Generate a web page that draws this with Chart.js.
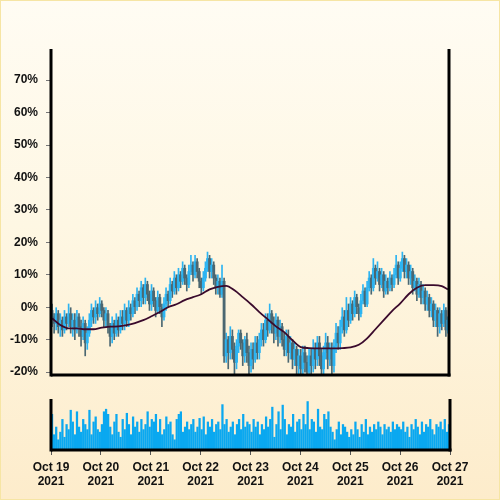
<!DOCTYPE html>
<html>
<head>
<meta charset="utf-8">
<script src="https://cdn.jsdelivr.net/npm/chart.js@4.4.1/dist/chart.umd.min.js"></script>
<style>
  html, body { margin: 0; padding: 0; }
  #wrap {
    position: relative; width: 498px; height: 498px;
    border: 1px solid #f6e5a4;
    background: linear-gradient(to bottom, #fffcf3 0%, #fef7e3 45%, #fdeccb 100%);
  }
  #main { position: absolute; left: 0; top: 0; }
  #vol { position: absolute; left: 0; top: 385px; }
</style>
</head>
<body>
<div id="wrap">
  <canvas id="main" width="500" height="385"></canvas>
  <canvas id="vol" width="500" height="115"></canvas>
</div>
<script>
// hourly candles, Oct 19 00:00 -> Oct 27 00:00 (values in %)
const dayNames = ["Oct 19", "Oct 20", "Oct 21", "Oct 22", "Oct 23", "Oct 24", "Oct 25", "Oct 26", "Oct 27"];
const yearLabel = "2021";
const yTicks = [-20, -10, 0, 10, 20, 30, 40, 50, 60, 70];

const firstOpen = -1;
const closes = [
  -3, -5, -2, -6, -4, -7, -3, -5, -2, -6, -4, -7, -3, -6, -9, -5, -11, -8, -4, -1, -3, 0, -2, 1,
  -1, -4, -2, -6, -9, -5, -8, -4, -7, -3, -5, -1, -4, 0, -2, 2, 0, 4, 2, 6, 3, 7, 4, 1,
  5, 2, -1, 3, 0, -3, 1, 4, 2, 7, 5, 9, 6, 10, 8, 12, 9, 7, 11, 13, 10, 14, 11, 8,
  6, 9, 12, 15, 11, 13, 9, 6, 8, 4, 8, -15, -10, -14, -9, -13, -17, -12, -8, -11, -15, -10, -14, -18,
  -13, -16, -11, -14, -10, -7, -10, -4, -7, -2, -5, -8, -4, -9, -6, -10, -13, -9, -14, -11, -16, -13, -18, -15,
  -19, -14, -17, -20, -15, -18, -13, -16, -11, -15, -19, -14, -11, -16, -13, -18, -12, -8, -11, -6, -3, -7, -1, -4,
  1, -2, 3, 0, -2, 2, 5, 1, 6, 9, 6, 12, 9, 11, 7, 10, 5, 8, 6, 9, 7, 10, 13, 9,
  12, 15, 11, 13, 9, 11, 6, 8, 4, 7, 3, 5, 1, 3, -1, 1, -4, -1, -6, -2, -5, -1, -7, -4
];
const highs = [
  1, -2, 0, -1, -2, -3, -1, -2, 1, 0, -2, -2, -1, -2, -4, -3, -4, -6, -2, 1, 0, 2, 1, 3,
  2, 0, 0, -1, -5, -3, -4, -2, -3, -1, -1, 1, 0, 2, 1, 4, 3, 6, 5, 8, 7, 9, 8, 5,
  7, 6, 3, 5, 4, 1, 3, 6, 5, 9, 8, 11, 10, 12, 11, 14, 13, 10, 13, 16, 14, 16, 15, 12,
  9, 11, 14, 17, 16, 15, 14, 10, 10, 9, 13, 9, -8, -9, -6, -7, -11, -10, -7, -7, -10, -9, -8, -12,
  -11, -11, -9, -9, -8, -5, -5, -2, -2, 1, -1, -3, -2, -3, -4, -5, -8, -7, -7, -9, -10, -11, -12, -13,
  -13, -12, -12, -15, -13, -13, -10, -11, -9, -9, -13, -12, -8, -9, -11, -11, -10, -5, -6, -4, 0, -1, 3, 1,
  3, 2, 5, 4, 1, 4, 7, 6, 8, 11, 10, 15, 13, 14, 12, 12, 11, 10, 9, 11, 10, 12, 16, 14,
  14, 17, 16, 15, 14, 13, 12, 10, 9, 9, 8, 7, 6, 5, 4, 3, 2, 1, 0, 0, -1, 1, 0, -3
];
const lows = [
  -6, -8, -7, -8, -9, -9, -8, -7, -6, -8, -9, -10, -8, -9, -12, -10, -15, -13, -9, -6, -5, -5, -4, -3,
  -3, -6, -6, -8, -12, -11, -10, -9, -9, -8, -7, -7, -6, -6, -4, -3, -2, -1, 0, 0, 1, 1, 2, -1,
  -1, 0, -3, -2, -2, -6, -4, -1, 0, 1, 3, 4, 4, 5, 6, 7, 7, 5, 6, 10, 8, 9, 9, 6,
  4, 5, 8, 11, 9, 9, 7, 4, 4, 3, 3, -17, -17, -19, -16, -16, -21, -19, -14, -13, -18, -17, -17, -22,
  -20, -19, -17, -16, -16, -12, -12, -11, -9, -8, -8, -11, -10, -12, -11, -12, -15, -15, -17, -16, -19, -18, -21, -21,
  -23, -21, -20, -23, -22, -21, -20, -19, -18, -18, -22, -21, -16, -19, -18, -21, -20, -14, -13, -13, -8, -9, -8, -6,
  -5, -4, -3, -2, -4, -3, 1, 0, 0, 5, 4, 5, 7, 8, 5, 6, 3, 4, 4, 5, 5, 6, 9, 7,
  8, 11, 9, 9, 7, 7, 4, 5, 2, 3, 1, 1, -1, -1, -3, -3, -6, -6, -9, -8, -7, -6, -9, -8
];
const volumes = [
  70, 30, 45, 20, 35, 60, 25, 50, 40, 78, 55, 30, 75, 45, 35, 60, 50, 40, 78, 30, 55, 65, 40, 35,
  50, 75, 80, 70, 45, 30, 55, 70, 35, 25, 60, 40, 72, 50, 30, 65, 45, 55, 35, 60, 40, 50, 75, 45,
  60, 55, 70, 35, 60, 30, 40, 65, 50, 55, 30, 20, 60, 70, 75, 35, 45, 55, 40, 50, 60, 35, 45, 62,
  40, 65, 30, 55, 45, 60, 35, 50, 55, 40, 89, 50, 60, 35, 45, 55, 30, 50, 60, 40, 70, 45, 55, 50,
  35, 60, 45, 55, 30, 50, 40, 65, 45, 60, 84, 25, 50, 75, 40, 88, 60, 30, 50, 45, 70, 35, 55, 60,
  40, 70, 50, 95, 40, 60, 55, 35, 80, 45, 40, 70, 60, 75, 45, 35, 20, 40, 55, 30, 50, 45, 35, 25,
  40, 30, 55, 40, 25, 50, 35, 60, 30, 45, 35, 50, 40, 55, 45, 30, 50, 40, 45, 35, 55, 40, 50, 45,
  40, 55, 35, 45, 25, 50, 40, 60, 45, 30, 55, 35, 50, 45, 60, 40, 30, 50, 45, 55, 40, 60, 35, 50
];
// moving average, read every 4 hours
const maHours = [0, 4, 8, 12, 16, 20, 24, 28, 32, 36, 40, 44, 48, 52, 56, 60, 64, 68, 72, 76, 80, 84, 88, 92, 96,
  100, 104, 108, 112, 116, 120, 124, 128, 132, 136, 140, 144, 148, 152, 156, 160, 164, 168, 172, 176, 180, 184, 188, 191];
const maValues = [-3.4, -5.5, -6.5, -6.5, -6.8, -6.8, -6.3, -6.0, -5.9, -5.5, -4.9, -4.0, -2.8, -1.5, 0, 0.9, 2.2, 3.1, 4.0, 5.5, 6.3, 6.6, 5.2, 3.1, 0.9,
  -1.5, -3.7, -5.9, -7.7, -10.2, -12.3, -12.6, -12.7, -12.7, -12.7, -12.6, -12.4, -11.6, -9.6, -6.8, -4.0, -1.2, 1.2, 4.0, 6.0, 6.8, 6.8, 6.5, 5.5];

const UP = "#2cb4f2";
const DOWN = "#4b6771";
const FONT = { family: "'Liberation Sans', Arial, sans-serif", size: 12, weight: "bold" };

const opens = closes.map((c, i) => (i === 0 ? firstOpen : closes[i - 1]));
const colors = closes.map((c, i) => (c >= opens[i] ? UP : DOWN));

function frame(lines) {
  return {
    id: "frame",
    afterDatasetsDraw(chart) {
      const ctx = chart.ctx;
      ctx.save();
      ctx.strokeStyle = "#000";
      ctx.lineWidth = 3;
      lines(chart.chartArea).forEach(([x1, y1, x2, y2]) => {
        ctx.beginPath();
        ctx.moveTo(x1, y1);
        ctx.lineTo(x2, y2);
        ctx.stroke();
      });
      ctx.restore();
    },
  };
}

new Chart(document.getElementById("main"), {
  type: "bar",
  data: {
    datasets: [
      {
        type: "line",
        data: maHours.map((h, i) => ({ x: h + 0.5, y: maValues[i] })),
        borderColor: "#3a0a2c",
        borderWidth: 1.8,
        pointRadius: 0,
        cubicInterpolationMode: "monotone",
        order: 0,
      },
      {
        data: closes.map((c, i) => ({ x: i + 0.5, y: [opens[i], c] })),
        backgroundColor: colors,
        barThickness: 2.2,
        grouped: false,
        order: 1,
      },
      {
        data: closes.map((c, i) => ({ x: i + 0.5, y: [lows[i], highs[i]] })),
        backgroundColor: colors,
        barThickness: 1,
        grouped: false,
        order: 2,
      },
    ],
  },
  options: {
    responsive: false,
    animation: false,
    layout: { padding: { left: 0, right: 52, top: 48, bottom: 11 } },
    plugins: { legend: { display: false }, tooltip: { enabled: false } },
    scales: {
      x: { type: "linear", min: 0, max: 192, offset: false, display: false },
      y: {
        min: -20.9,
        max: 79.6,
        afterFit: (s) => { s.width = 50; s.paddingTop = 0; s.paddingBottom = 0; },
        afterBuildTicks: (s) => { s.ticks = yTicks.map((v) => ({ value: v })); },
        ticks: { callback: (v) => v + "%", font: FONT, color: "#111", padding: 8 },
        grid: { drawOnChartArea: false, tickLength: 5, color: "#777" },
        border: { display: false },
      },
    },
  },
  plugins: [frame((a) => [
    [a.left, a.top, a.left, a.bottom + 1.5],
    [a.right, a.top, a.right, a.bottom + 1.5],
    [a.left, a.bottom, a.right + 1.5, a.bottom],
  ])],
});

new Chart(document.getElementById("vol"), {
  type: "bar",
  data: {
    datasets: [
      {
        data: volumes.map((v, i) => ({ x: i + 0.5, y: v })),
        backgroundColor: "#0aa8f0",
        barThickness: 1.6,
      },
    ],
  },
  options: {
    responsive: false,
    animation: false,
    layout: { padding: { left: 50, right: 51, top: 13, bottom: 0 } },
    plugins: { legend: { display: false }, tooltip: { enabled: false } },
    scales: {
      x: {
        type: "linear",
        min: 0,
        max: 192,
        offset: false,
        afterFit: (s) => { s.height = 51; },
        afterBuildTicks: (s) => { s.ticks = dayNames.map((d, i) => ({ value: i * 24 })); },
        ticks: {
          callback: (v) => [dayNames[v / 24], yearLabel],
          font: FONT,
          color: "#111",
          padding: 5,
          maxRotation: 0,
          autoSkip: false,
        },
        grid: { drawOnChartArea: false, offset: false, tickLength: 5, color: "#555" },
        border: { display: false },
      },
      y: { min: 0, max: 100, display: false },
    },
  },
  plugins: [frame((a) => [
    [a.left, a.top, a.left, a.bottom + 1.5],
    [a.right, a.top, a.right, a.bottom + 1.5],
    [a.left, a.bottom, a.right + 1.5, a.bottom],
  ])],
});
</script>
</body>
</html>
